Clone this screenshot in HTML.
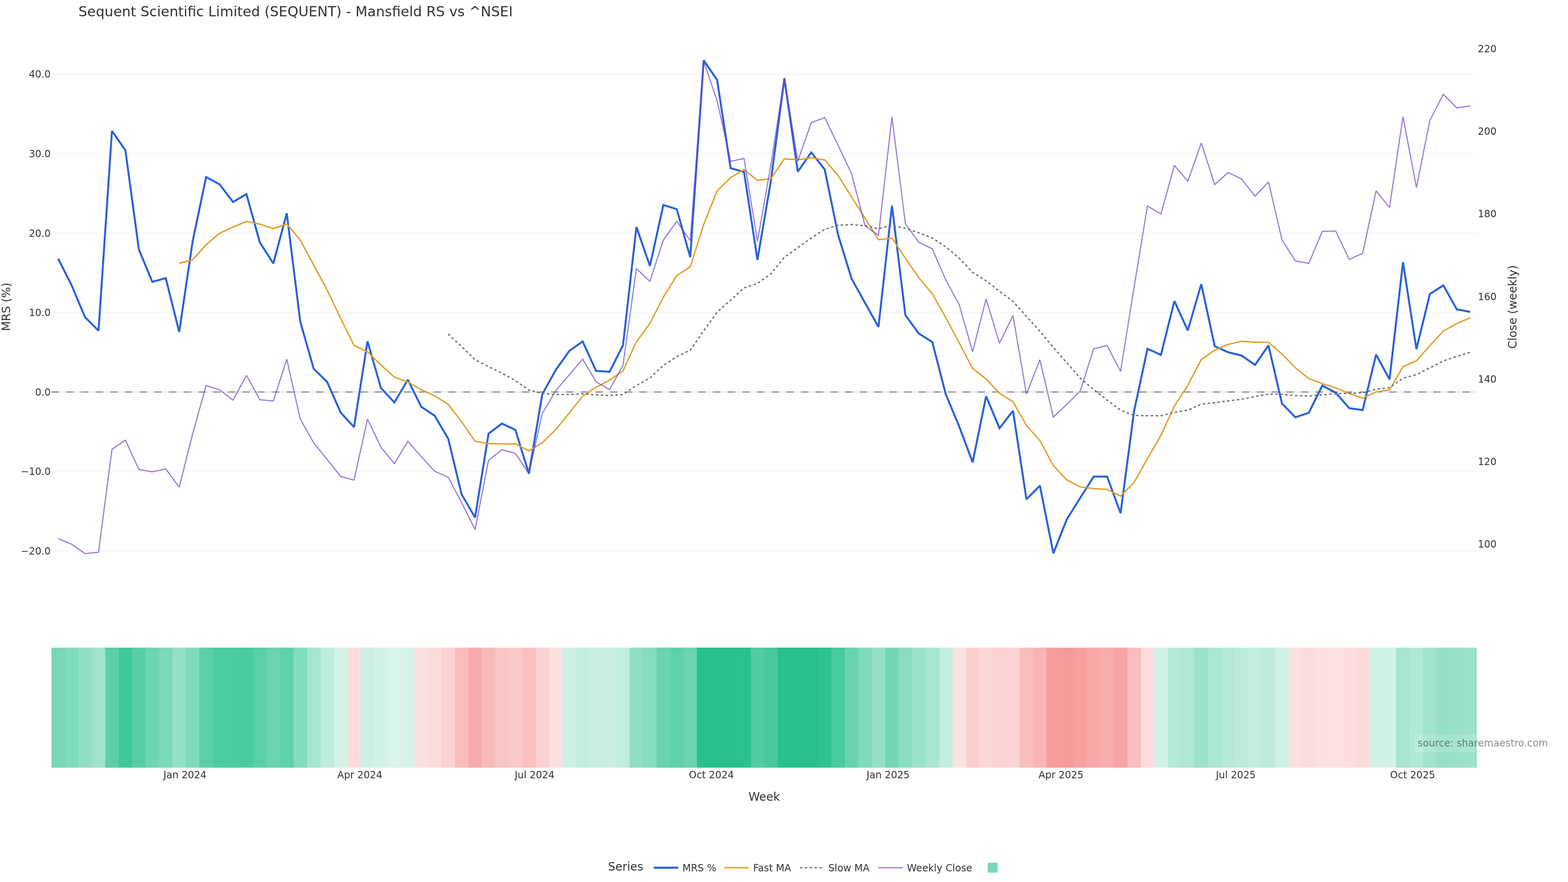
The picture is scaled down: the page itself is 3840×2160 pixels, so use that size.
<!DOCTYPE html>
<html lang="en"><head><meta charset="utf-8"><title>Sequent Scientific Limited (SEQUENT) - Mansfield RS vs ^NSEI</title>
<style>html,body{margin:0;padding:0;background:#fff;}body{width:3840px;height:2160px;}svg{display:block;font-family:"DejaVu Sans","Liberation Sans",sans-serif;}text{fill:#333333;}</style>
</head><body>
<svg width="3840" height="2160" viewBox="0 0 3840 2160" role="img" aria-label="Sequent Scientific Limited (SEQUENT) - Mansfield RS vs ^NSEI">
<rect width="3840" height="2160" fill="#ffffff"/>
<g stroke="#f3f4f6" stroke-width="2" shape-rendering="crispEdges">
<line x1="127.0" x2="3616.0" y1="182" y2="182"/>
<line x1="127.0" x2="3616.0" y1="376" y2="376"/>
<line x1="127.0" x2="3616.0" y1="571" y2="571"/>
<line x1="127.0" x2="3616.0" y1="765" y2="765"/>
<line x1="127.0" x2="3616.0" y1="1154" y2="1154"/>
<line x1="127.0" x2="3616.0" y1="1349" y2="1349"/>
</g>
<line x1="127.0" x2="3616.0" y1="960" y2="960" stroke="#ebedf0" stroke-width="4" shape-rendering="crispEdges"/>
<g shape-rendering="crispEdges">
<rect x="126.00" y="1586.0" width="33.23" height="294.0" fill="#77d7b7"/>
<rect x="158.93" y="1586.0" width="33.23" height="294.0" fill="#81dabd"/>
<rect x="191.87" y="1586.0" width="33.23" height="294.0" fill="#92dfc6"/>
<rect x="224.80" y="1586.0" width="33.23" height="294.0" fill="#a0e3cd"/>
<rect x="257.74" y="1586.0" width="33.23" height="294.0" fill="#5bcfa9"/>
<rect x="290.67" y="1586.0" width="33.23" height="294.0" fill="#40c79a"/>
<rect x="323.60" y="1586.0" width="33.23" height="294.0" fill="#58cea7"/>
<rect x="356.54" y="1586.0" width="33.23" height="294.0" fill="#70d5b4"/>
<rect x="389.47" y="1586.0" width="33.23" height="294.0" fill="#7bd8b9"/>
<rect x="422.41" y="1586.0" width="33.23" height="294.0" fill="#94e0c7"/>
<rect x="455.34" y="1586.0" width="33.23" height="294.0" fill="#7fdabc"/>
<rect x="488.27" y="1586.0" width="33.23" height="294.0" fill="#5ccfa9"/>
<rect x="521.21" y="1586.0" width="33.23" height="294.0" fill="#4ecba2"/>
<rect x="554.14" y="1586.0" width="33.23" height="294.0" fill="#4dcba1"/>
<rect x="587.08" y="1586.0" width="33.23" height="294.0" fill="#4aca9f"/>
<rect x="620.01" y="1586.0" width="33.23" height="294.0" fill="#5acfa8"/>
<rect x="652.94" y="1586.0" width="33.23" height="294.0" fill="#6ad3b1"/>
<rect x="685.88" y="1586.0" width="33.23" height="294.0" fill="#60d0ab"/>
<rect x="718.81" y="1586.0" width="33.23" height="294.0" fill="#83dbbe"/>
<rect x="751.75" y="1586.0" width="33.23" height="294.0" fill="#a6e5d0"/>
<rect x="784.68" y="1586.0" width="33.23" height="294.0" fill="#bdecdc"/>
<rect x="817.61" y="1586.0" width="33.23" height="294.0" fill="#d4f2e8"/>
<rect x="850.55" y="1586.0" width="33.23" height="294.0" fill="#fcdcdc"/>
<rect x="883.48" y="1586.0" width="33.23" height="294.0" fill="#cdf0e5"/>
<rect x="916.42" y="1586.0" width="33.23" height="294.0" fill="#d2f2e8"/>
<rect x="949.35" y="1586.0" width="33.23" height="294.0" fill="#dbf4ec"/>
<rect x="982.28" y="1586.0" width="33.23" height="294.0" fill="#d6f3ea"/>
<rect x="1015.22" y="1586.0" width="33.23" height="294.0" fill="#fce0e0"/>
<rect x="1048.15" y="1586.0" width="33.23" height="294.0" fill="#fcdbdb"/>
<rect x="1081.08" y="1586.0" width="33.23" height="294.0" fill="#fbd1d1"/>
<rect x="1114.02" y="1586.0" width="33.23" height="294.0" fill="#f9bcbc"/>
<rect x="1146.95" y="1586.0" width="33.23" height="294.0" fill="#f8abab"/>
<rect x="1179.89" y="1586.0" width="33.23" height="294.0" fill="#f9baba"/>
<rect x="1212.82" y="1586.0" width="33.23" height="294.0" fill="#fac5c5"/>
<rect x="1245.75" y="1586.0" width="33.23" height="294.0" fill="#fac9c9"/>
<rect x="1278.69" y="1586.0" width="33.23" height="294.0" fill="#f9bebe"/>
<rect x="1311.62" y="1586.0" width="33.23" height="294.0" fill="#fbd0d0"/>
<rect x="1344.56" y="1586.0" width="33.23" height="294.0" fill="#fce0e0"/>
<rect x="1377.49" y="1586.0" width="33.23" height="294.0" fill="#cef1e5"/>
<rect x="1410.42" y="1586.0" width="33.23" height="294.0" fill="#c1eddf"/>
<rect x="1443.36" y="1586.0" width="33.23" height="294.0" fill="#c6eee1"/>
<rect x="1476.29" y="1586.0" width="33.23" height="294.0" fill="#c9efe3"/>
<rect x="1509.23" y="1586.0" width="33.23" height="294.0" fill="#c1edde"/>
<rect x="1542.16" y="1586.0" width="33.23" height="294.0" fill="#90dec4"/>
<rect x="1575.09" y="1586.0" width="33.23" height="294.0" fill="#86dcbf"/>
<rect x="1608.03" y="1586.0" width="33.23" height="294.0" fill="#6ad3b1"/>
<rect x="1640.96" y="1586.0" width="33.23" height="294.0" fill="#5ed0aa"/>
<rect x="1673.90" y="1586.0" width="33.23" height="294.0" fill="#6ad3b0"/>
<rect x="1706.83" y="1586.0" width="33.23" height="294.0" fill="#28c08e"/>
<rect x="1739.76" y="1586.0" width="33.23" height="294.0" fill="#28c08e"/>
<rect x="1772.70" y="1586.0" width="33.23" height="294.0" fill="#28c08e"/>
<rect x="1805.63" y="1586.0" width="33.23" height="294.0" fill="#2ac18f"/>
<rect x="1838.57" y="1586.0" width="33.23" height="294.0" fill="#51cca3"/>
<rect x="1871.50" y="1586.0" width="33.23" height="294.0" fill="#47c99e"/>
<rect x="1904.43" y="1586.0" width="33.23" height="294.0" fill="#28c08e"/>
<rect x="1937.37" y="1586.0" width="33.23" height="294.0" fill="#28c08e"/>
<rect x="1970.30" y="1586.0" width="33.23" height="294.0" fill="#28c08e"/>
<rect x="2003.24" y="1586.0" width="33.23" height="294.0" fill="#2ec291"/>
<rect x="2036.17" y="1586.0" width="33.23" height="294.0" fill="#49ca9f"/>
<rect x="2069.10" y="1586.0" width="33.23" height="294.0" fill="#68d3af"/>
<rect x="2102.04" y="1586.0" width="33.23" height="294.0" fill="#80dabc"/>
<rect x="2134.97" y="1586.0" width="33.23" height="294.0" fill="#95e0c7"/>
<rect x="2167.91" y="1586.0" width="33.23" height="294.0" fill="#72d6b5"/>
<rect x="2200.84" y="1586.0" width="33.23" height="294.0" fill="#8addc1"/>
<rect x="2233.77" y="1586.0" width="33.23" height="294.0" fill="#9ce2cb"/>
<rect x="2266.71" y="1586.0" width="33.23" height="294.0" fill="#a9e6d2"/>
<rect x="2299.64" y="1586.0" width="33.23" height="294.0" fill="#c3eddf"/>
<rect x="2332.58" y="1586.0" width="33.23" height="294.0" fill="#fde2e2"/>
<rect x="2365.51" y="1586.0" width="33.23" height="294.0" fill="#fbcece"/>
<rect x="2398.44" y="1586.0" width="33.23" height="294.0" fill="#fcd7d7"/>
<rect x="2431.38" y="1586.0" width="33.23" height="294.0" fill="#fbd2d2"/>
<rect x="2464.31" y="1586.0" width="33.23" height="294.0" fill="#fbd5d5"/>
<rect x="2497.25" y="1586.0" width="33.23" height="294.0" fill="#f9bdbd"/>
<rect x="2530.18" y="1586.0" width="33.23" height="294.0" fill="#f9b4b4"/>
<rect x="2563.11" y="1586.0" width="33.23" height="294.0" fill="#f79c9c"/>
<rect x="2596.05" y="1586.0" width="33.23" height="294.0" fill="#f69a9a"/>
<rect x="2628.98" y="1586.0" width="33.23" height="294.0" fill="#f79f9f"/>
<rect x="2661.92" y="1586.0" width="33.23" height="294.0" fill="#f8a8a8"/>
<rect x="2694.85" y="1586.0" width="33.23" height="294.0" fill="#f8adad"/>
<rect x="2727.78" y="1586.0" width="33.23" height="294.0" fill="#f7a4a4"/>
<rect x="2760.72" y="1586.0" width="33.23" height="294.0" fill="#f9bebe"/>
<rect x="2793.65" y="1586.0" width="33.23" height="294.0" fill="#fcdddd"/>
<rect x="2826.58" y="1586.0" width="33.23" height="294.0" fill="#d1f2e7"/>
<rect x="2859.52" y="1586.0" width="33.23" height="294.0" fill="#b4e9d7"/>
<rect x="2892.45" y="1586.0" width="33.23" height="294.0" fill="#b0e8d6"/>
<rect x="2925.39" y="1586.0" width="33.23" height="294.0" fill="#9de2cb"/>
<rect x="2958.32" y="1586.0" width="33.23" height="294.0" fill="#abe6d3"/>
<rect x="2991.25" y="1586.0" width="33.23" height="294.0" fill="#b4e9d8"/>
<rect x="3024.19" y="1586.0" width="33.23" height="294.0" fill="#baebdb"/>
<rect x="3057.12" y="1586.0" width="33.23" height="294.0" fill="#c0edde"/>
<rect x="3090.06" y="1586.0" width="33.23" height="294.0" fill="#bcebdc"/>
<rect x="3122.99" y="1586.0" width="33.23" height="294.0" fill="#d0f1e6"/>
<rect x="3155.92" y="1586.0" width="33.23" height="294.0" fill="#fce0e0"/>
<rect x="3188.86" y="1586.0" width="33.23" height="294.0" fill="#fcdbdb"/>
<rect x="3221.79" y="1586.0" width="33.23" height="294.0" fill="#fce1e1"/>
<rect x="3254.73" y="1586.0" width="33.23" height="294.0" fill="#fde2e2"/>
<rect x="3287.66" y="1586.0" width="33.23" height="294.0" fill="#fcdede"/>
<rect x="3320.59" y="1586.0" width="33.23" height="294.0" fill="#fcdbdb"/>
<rect x="3353.53" y="1586.0" width="33.23" height="294.0" fill="#d2f2e7"/>
<rect x="3386.46" y="1586.0" width="33.23" height="294.0" fill="#d2f2e7"/>
<rect x="3419.40" y="1586.0" width="33.23" height="294.0" fill="#a6e5d0"/>
<rect x="3452.33" y="1586.0" width="33.23" height="294.0" fill="#b0e8d6"/>
<rect x="3485.26" y="1586.0" width="33.23" height="294.0" fill="#a1e3cd"/>
<rect x="3518.20" y="1586.0" width="33.23" height="294.0" fill="#96e0c8"/>
<rect x="3551.13" y="1586.0" width="33.23" height="294.0" fill="#99e1c9"/>
<rect x="3584.07" y="1586.0" width="33.23" height="294.0" fill="#9ce2cb"/>
</g>
<line x1="126.0" x2="3617.0" y1="960" y2="960" stroke="#70707c" stroke-width="2" stroke-dasharray="18 18"/>
<g fill="none" stroke-linejoin="miter" stroke-miterlimit="2">
<path d="M142.5,633.6L175.4,698.7L208.3,777.0L241.3,809.9L274.2,320.6L307.1,368.2L340.1,610.9L373.0,690.4L405.9,681.3L438.9,812.9L471.8,591.0L504.7,433.6L537.7,451.4L570.6,494.5L603.5,475.5L636.5,593.9L669.4,645.2L702.3,522.2L735.3,787.5L768.2,903.1L801.1,935.2L834.1,1010.0L867.0,1046.0L900.0,835.9L932.9,950.1L965.8,985.6L998.8,930.0L1031.7,996.3L1064.6,1018.2L1097.6,1074.2L1130.5,1210.6L1163.4,1267.4L1196.4,1062.1L1229.3,1037.4L1262.2,1052.8L1295.2,1160.0L1328.1,965.3L1361.0,906.2L1394.0,859.6L1426.9,836.1L1459.8,908.4L1492.8,910.5L1525.7,845.5L1558.6,555.9L1591.6,651.3L1624.5,502.0L1657.4,512.3L1690.4,629.9L1723.3,147.7L1756.2,195.6L1789.2,411.7L1822.1,421.1L1855.0,636.3L1888.0,441.7L1920.9,192.2L1953.8,420.3L1986.8,373.2L2019.7,415.1L2052.6,575.6L2085.6,682.6L2118.5,741.9L2151.4,800.6L2184.4,503.7L2217.3,771.9L2250.2,816.8L2283.2,837.8L2316.1,965.3L2349.0,1044.4L2382.0,1132.2L2414.9,970.4L2447.8,1048.7L2480.8,1005.9L2513.7,1222.7L2546.7,1189.4L2579.6,1355.0L2612.5,1272.0L2645.5,1219.3L2678.4,1167.1L2711.3,1167.1L2744.3,1257.0L2777.2,1007.5L2810.1,854.1L2843.1,869.1L2876.0,737.3L2908.9,809.2L2941.9,695.8L2974.8,847.7L3007.7,862.7L3040.7,870.8L3073.6,893.6L3106.5,845.9L3139.5,988.2L3172.4,1021.9L3205.3,1010.8L3238.3,944.1L3271.2,961.7L3304.1,999.5L3337.1,1004.3L3370.0,868.3L3402.9,929.2L3435.9,642.0L3468.8,855.1L3501.7,719.9L3534.7,698.9L3567.6,757.5L3600.5,763.9" stroke="#2962d9" stroke-width="4.8"/>
<path d="M438.9,644.8L471.8,636.5L504.7,599.3L537.7,571.1L570.6,555.8L603.5,542.5L636.5,548.8L669.4,559.9L702.3,548.4L735.3,587.7L768.2,648.9L801.1,710.5L834.1,779.0L867.0,845.7L900.0,861.6L932.9,893.7L965.8,923.6L998.8,935.6L1031.7,954.4L1064.6,969.4L1097.6,990.4L1130.5,1032.7L1163.4,1080.7L1196.4,1086.2L1229.3,1087.0L1262.2,1087.0L1295.2,1104.3L1328.1,1084.2L1361.0,1052.1L1394.0,1011.5L1426.9,970.4L1459.8,948.2L1492.8,931.1L1525.7,908.4L1558.6,836.9L1591.6,792.0L1624.5,727.8L1657.4,674.9L1690.4,653.5L1723.3,549.9L1756.2,467.3L1789.2,435.2L1822.1,415.1L1855.0,441.7L1888.0,437.4L1920.9,389.0L1953.8,391.2L1986.8,386.5L2019.7,391.6L2052.6,430.1L2085.6,482.3L2118.5,534.5L2151.4,587.1L2184.4,583.3L2217.3,632.1L2250.2,680.0L2283.2,719.3L2316.1,777.9L2349.0,839.5L2382.0,902.4L2414.9,928.1L2447.8,963.1L2480.8,983.7L2513.7,1041.8L2546.7,1079.0L2579.6,1140.2L2612.5,1175.3L2645.5,1192.4L2678.4,1196.6L2711.3,1198.4L2744.3,1215.0L2777.2,1181.7L2810.1,1123.1L2843.1,1066.1L2876.0,994.7L2908.9,943.3L2941.9,880.6L2974.8,857.5L3007.7,843.4L3040.7,835.7L3073.6,838.2L3106.5,838.2L3139.5,867.1L3172.4,900.8L3205.3,927.3L3238.3,939.3L3271.2,950.1L3304.1,963.4L3337.1,974.9L3370.0,959.8L3402.9,955.0L3435.9,897.9L3468.8,883.5L3501.7,846.6L3534.7,810.5L3567.6,792.5L3600.5,778.1" stroke="#e2a02b" stroke-width="3.4"/>
<path d="M1097.6,817.9L1130.5,848.7L1163.4,880.8L1196.4,897.9L1229.3,914.2L1262.2,932.2L1295.2,955.4L1328.1,963.1L1361.0,966.1L1394.0,966.1L1426.9,964.4L1459.8,967.0L1492.8,968.7L1525.7,966.1L1558.6,943.9L1591.6,925.9L1624.5,894.7L1657.4,873.3L1690.4,857.5L1723.3,810.4L1756.2,764.2L1789.2,735.1L1822.1,705.1L1855.0,694.1L1888.0,670.6L1920.9,629.9L1953.8,606.4L1986.8,582.9L2019.7,561.5L2052.6,551.6L2085.6,549.9L2118.5,552.9L2151.4,560.2L2184.4,552.0L2217.3,559.3L2250.2,570.0L2283.2,582.9L2316.1,604.3L2349.0,632.1L2382.0,667.1L2414.9,687.7L2447.8,713.4L2480.8,738.0L2513.7,774.9L2546.7,811.3L2579.6,851.1L2612.5,888.3L2645.5,926.2L2678.4,954.0L2711.3,979.7L2744.3,1004.5L2777.2,1017.4L2810.1,1018.2L2843.1,1018.2L2876.0,1009.7L2908.9,1004.5L2941.9,989.6L2974.8,986.1L3007.7,981.8L3040.7,977.6L3073.6,971.3L3106.5,964.6L3139.5,965.8L3172.4,968.9L3205.3,969.9L3238.3,967.0L3271.2,964.1L3304.1,963.4L3337.1,962.2L3370.0,953.3L3402.9,949.4L3435.9,926.1L3468.8,917.6L3501.7,900.8L3534.7,884.0L3567.6,872.6L3600.5,863.0" stroke="#707070" stroke-width="3.2" stroke-dasharray="6 6"/>
<path d="M142.5,1319.1L175.4,1332.8L208.3,1355.9L241.3,1352.5L274.2,1100.4L307.1,1077.8L340.1,1149.6L373.0,1155.6L405.9,1148.4L438.9,1193.3L471.8,1062.4L504.7,944.3L537.7,954.5L570.6,979.8L603.5,919.4L636.5,978.9L669.4,981.9L702.3,879.5L735.3,1026.3L768.2,1084.5L801.1,1124.9L834.1,1166.9L867.0,1175.8L900.0,1026.3L932.9,1095.2L965.8,1135.5L998.8,1080.9L1031.7,1118.4L1064.6,1154.1L1097.6,1168.8L1130.5,1230.7L1163.4,1296.9L1196.4,1127.3L1229.3,1101.4L1262.2,1110.4L1295.2,1160.0L1328.1,1012.4L1361.0,956.7L1394.0,918.2L1426.9,879.7L1459.8,934.9L1492.8,954.2L1525.7,894.7L1558.6,657.7L1591.6,689.0L1624.5,588.0L1657.4,542.2L1690.4,589.3L1723.3,149.4L1756.2,247.0L1789.2,395.0L1822.1,388.2L1855.0,591.4L1888.0,403.1L1920.9,190.5L1953.8,394.6L1986.8,300.5L2019.7,288.0L2052.6,356.1L2085.6,425.8L2118.5,552.9L2151.4,576.4L2184.4,286.3L2217.3,547.8L2250.2,593.6L2283.2,609.4L2316.1,685.5L2349.0,746.2L2382.0,861.7L2414.9,732.1L2447.8,840.3L2480.8,772.8L2513.7,964.7L2546.7,881.1L2579.6,1021.2L2612.5,990.4L2645.5,957.5L2678.4,854.1L2711.3,846.4L2744.3,909.7L2777.2,704.3L2810.1,504.5L2843.1,524.2L2876.0,404.8L2908.9,443.8L2941.9,350.1L2974.8,451.9L3007.7,422.4L3040.7,438.6L3073.6,480.3L3106.5,445.2L3139.5,587.2L3172.4,639.0L3205.3,645.0L3238.3,566.7L3271.2,565.8L3304.1,635.2L3337.1,620.6L3370.0,467.4L3402.9,508.5L3435.9,285.4L3468.8,459.3L3501.7,295.0L3534.7,230.8L3567.6,264.2L3600.5,259.5" stroke="#6f42cd" stroke-opacity="0.7" stroke-width="2.8"/>
</g>
<text x="192" y="40" font-size="34">Sequent Scientific Limited (SEQUENT) - Mansfield RS vs ^NSEI</text>
<g font-size="24" text-anchor="end">
<text x="124.1" y="190">40.0</text>
<text x="124.1" y="385">30.0</text>
<text x="124.1" y="579.5">20.0</text>
<text x="124.1" y="774">10.0</text>
<text x="124.1" y="968.5">0.0</text>
<text x="124.1" y="1163">−10.0</text>
<text x="124.1" y="1358">−20.0</text>
</g>
<g font-size="24" text-anchor="start">
<text x="3619.3" y="128.0">220</text>
<text x="3619.3" y="330.0">200</text>
<text x="3619.3" y="532.0">180</text>
<text x="3619.3" y="735.0">160</text>
<text x="3619.3" y="937.1">140</text>
<text x="3619.3" y="1139.3">120</text>
<text x="3619.3" y="1340.7">100</text>
</g>
<g font-size="24" text-anchor="middle">
<text x="453.0" y="1906">Jan 2024</text>
<text x="881.1" y="1906">Apr 2024</text>
<text x="1309.3" y="1906">Jul 2024</text>
<text x="1742.1" y="1906">Oct 2024</text>
<text x="2175.0" y="1906">Jan 2025</text>
<text x="2598.4" y="1906">Apr 2025</text>
<text x="3026.5" y="1906">Jul 2025</text>
<text x="3459.4" y="1906">Oct 2025</text>
</g>
<text x="1871.5" y="1961" font-size="28" text-anchor="middle">Week</text>
<text transform="translate(25.4,751.4) rotate(-90)" font-size="28" text-anchor="middle">MRS (%)</text>
<text transform="translate(3714,751.7) rotate(-90)" font-size="28" text-anchor="middle">Close (weekly)</text>
<rect x="3464" y="1798" width="340" height="45" fill="#ffffff" fill-opacity="0.15"/>
<text x="3472" y="1828" font-size="24" style="fill:#000000;fill-opacity:0.46">source: sharemaestro.com</text>
<text x="1489.2" y="2132" font-size="28">Series</text>
<line x1="1601" x2="1661" y1="2125" y2="2125" stroke="#2962d9" stroke-width="5.1"/>
<text x="1671.2" y="2133.5" font-size="24">MRS %</text>
<line x1="1774" x2="1834" y1="2125" y2="2125" stroke="#e2a02b" stroke-width="3.6"/>
<text x="1844.5" y="2133.5" font-size="24">Fast MA</text>
<line x1="1959" x2="2019" y1="2125" y2="2125" stroke="#707070" stroke-width="3.2" stroke-dasharray="6 6"/>
<text x="2028.5" y="2133.5" font-size="24">Slow MA</text>
<line x1="2151" x2="2211" y1="2125" y2="2125" stroke="#6f42cd" stroke-opacity="0.7" stroke-width="2.8"/>
<text x="2221.3" y="2133.5" font-size="24">Weekly Close</text>
<rect x="2419" y="2113" width="24" height="24" fill="#77d7b7"/>
</svg></body></html>
